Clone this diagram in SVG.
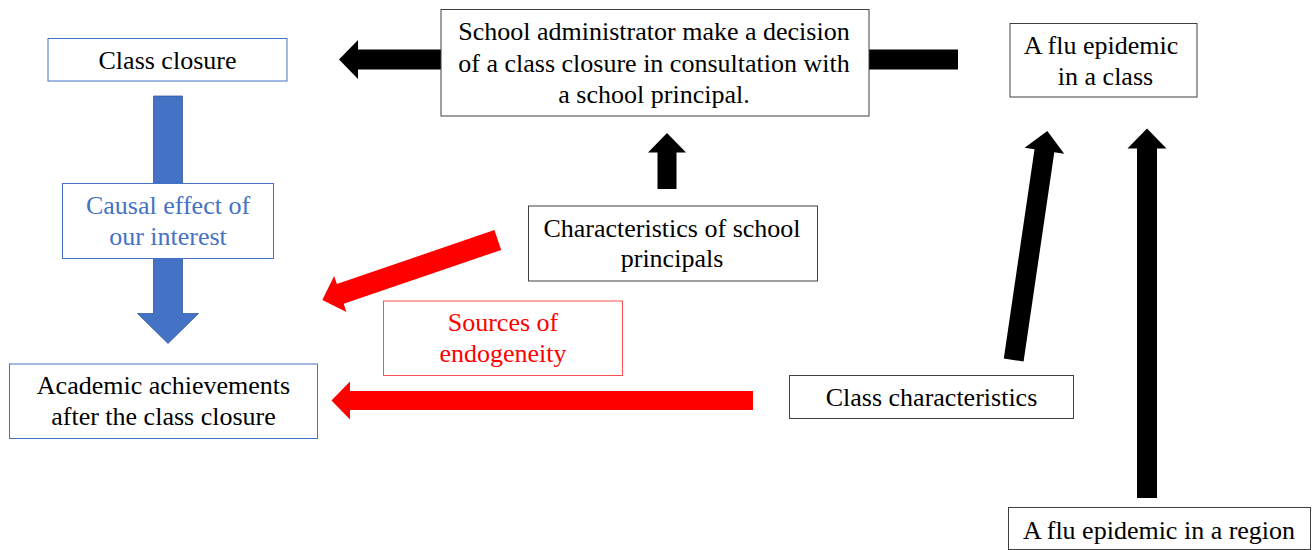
<svg xmlns="http://www.w3.org/2000/svg" width="1313" height="550" viewBox="0 0 1313 550" font-family="'Liberation Serif', Tinos, 'Times New Roman', 'DejaVu Serif', serif">
<style>
  text { font-family: 'Liberation Serif', Tinos, 'Times New Roman', 'DejaVu Serif', serif; font-size: 26px; text-anchor: middle; fill: #000; }
  .box { fill: #fff; stroke: #404040; stroke-width: 1; }
  .bbox { fill: #fff; stroke: #4472C4; stroke-width: 1; }
  .rbox { fill: #fff; stroke: #FF5050; stroke-width: 1; }
  .blk { fill: #000; }
  .red { fill: #FF0000; }
  .blue { fill: #4472C4; stroke: #2F5597; stroke-width: 0.75; }
  .bt { fill: #4472C4; }
  .rt { fill: #FF0000; }
</style>
<rect width="1313" height="550" fill="#fff"/>
<g id="connectors">
  <polygon class="blk" points="958,49.5 358,49.5 358,40 339,59.5 358,79 358,69.5 958,69.5"/>
  <polygon class="blk" points="657.5,189 657.5,152.5 648,152.5 667,133 686,152.5 676.5,152.5 676.5,189"/>
  <polygon class="blk" points="1137,498 1137,148.5 1127.5,148.5 1147,128.5 1166.5,148.5 1157,148.5 1157,498"/>
  <polygon class="blk" transform="translate(1013.7,360) rotate(-81.65)" points="0,-10 211.5,-10 211.5,-20 231.5,0 211.5,20 211.5,10 0,10"/>
  <polygon class="red" transform="translate(497.8,240) rotate(161.1)" points="0,-10.5 166.5,-10.5 166.5,-19 185.5,0 166.5,19 166.5,10.5 0,10.5"/>
  <polygon class="red" points="753,391 350,391 350,381.5 331.5,400.5 350,419.5 350,410 753,410"/>
  <polygon class="blue" points="153.5,96 182.5,96 182.5,313.5 198.5,313.5 168,343.5 137.5,313.5 153.5,313.5"/>
</g>
<g id="class-closure">
  <rect class="bbox" x="48" y="38.5" width="239" height="42.5"/>
  <text x="167.5" y="68.5">Class closure</text>
</g>
<g id="decision">
  <rect class="box" x="441" y="9.5" width="428" height="106.5"/>
  <text x="654" y="39.5">School administrator make a decision</text>
  <text x="654" y="71.5">of a class closure in consultation with</text>
  <text x="654" y="103">a school principal.</text>
</g>
<g id="flu-class">
  <rect class="box" x="1010" y="23.5" width="187" height="73.5"/>
  <text x="1101" y="53.5">A flu epidemic</text>
  <text x="1105.5" y="85">in a class</text>
</g>
<g id="causal">
  <rect class="bbox" x="62.5" y="183.5" width="211" height="75"/>
  <text class="bt" x="168" y="213.5">Causal effect of</text>
  <text class="bt" x="168" y="245">our interest</text>
</g>
<g id="principals">
  <rect class="box" x="528.5" y="206" width="289" height="75"/>
  <text x="672" y="236.5">Characteristics of school</text>
  <text x="672" y="267">principals</text>
</g>
<g id="sources">
  <rect class="rbox" x="383.5" y="301" width="239" height="74.5"/>
  <text class="rt" x="503" y="330.5">Sources of</text>
  <text class="rt" x="503" y="362">endogeneity</text>
</g>
<g id="academic">
  <rect class="bbox" x="9.5" y="364" width="308" height="74.5"/>
  <text x="163.5" y="393.5">Academic achievements</text>
  <text x="163.5" y="424.5">after the class closure</text>
</g>
<g id="class-char">
  <rect class="box" x="789.5" y="375.5" width="284" height="43"/>
  <text x="931.5" y="406">Class characteristics</text>
</g>
<g id="flu-region">
  <rect class="box" x="1008.5" y="507.5" width="302" height="42"/>
  <text x="1159" y="539">A flu epidemic in a region</text>
</g>
</svg>
